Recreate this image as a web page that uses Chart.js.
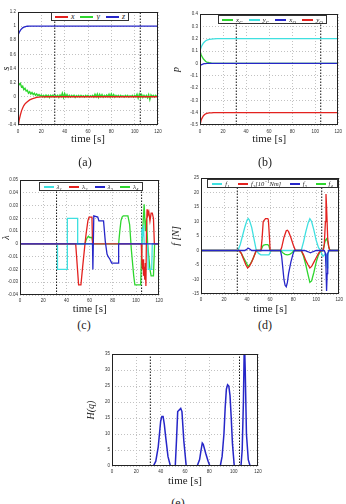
<!DOCTYPE html>
<html>
<head>
<meta charset="utf-8">
<script src="https://cdn.jsdelivr.net/npm/chart.js@4.4.1/dist/chart.umd.min.js"></script>
<style>
body { margin:0; width:346px; height:504px; background:#fff; position:relative; overflow:hidden; font-family:"Liberation Serif", serif; color:#222; }
canvas { position:absolute; }
.cap { position:absolute; font-size:12px; transform:translateX(-50%); white-space:nowrap; }
.leg { position:absolute; background:#fff; border:1px solid #333; display:flex; align-items:center; justify-content:space-around; font-style:italic; box-sizing:border-box; white-space:nowrap; }
.leg .ln { display:inline-block; height:2px; vertical-align:middle; margin-right:3px; }
.leg sub, .leg sup { font-size:70%; line-height:0; }
</style>
</head>
<body>
<canvas id="chartA" width="166" height="150" style="left:0;top:0"></canvas>
<canvas id="chartB" width="176" height="150" style="left:170px;top:0"></canvas>
<canvas id="chartC" width="166" height="148" style="left:0;top:168px"></canvas>
<canvas id="chartD" width="176" height="148" style="left:170px;top:168px"></canvas>
<canvas id="chartE" width="180" height="144" style="left:85px;top:344px"></canvas>

<div class="leg" id="legA" style="left:51px;top:12px;width:78px;height:9px;font-size:8px"></div>
<div class="leg" id="legB" style="left:218px;top:15px;width:109px;height:9px;font-size:7px"></div>
<div class="leg" id="legC" style="left:39px;top:182px;width:104px;height:9px;font-size:7px"></div>
<div class="leg" id="legD" style="left:207px;top:179px;width:131px;height:9px;font-size:6.5px"></div>

<div class="cap" style="left:85px;top:155px">(a)</div>
<div class="cap" style="left:265px;top:155px">(b)</div>
<div class="cap" style="left:84px;top:318px">(c)</div>
<div class="cap" style="left:265px;top:318px">(d)</div>
<div class="cap" style="left:178px;top:496px">(e)</div>

<script>
// colours (matlab-ish)
var RED = '#e3221f', GREEN = '#2fd62f', BLUE = '#2626c8', CYAN = '#3fe0e0';

// times of the two dotted switch lines [s]
var switchT = [31.5, 104.8];

// ---- (a) position s
var timeA = [0, 1, 2, 3, 4, 5, 6, 7, 8, 10, 12, 14, 16, 18, 20, 25, 120];
var posX  = [-0.43, -0.33, -0.26, -0.2, -0.16, -0.125, -0.1, -0.085, -0.07, -0.045, -0.03, -0.018, -0.01, -0.005, -0.002, 0, 0];
var posZ  = [0.87, 0.91, 0.94, 0.96, 0.975, 0.985, 0.99, 0.995, 0.998, 1, 1, 1, 1, 1, 1, 1, 1];
var stepY = 1; // posY sampled every second from t=0
var posY = [0.21, 0.17, 0.19, 0.14, 0.15, 0.1, 0.12, 0.08, 0.09, 0.05, 0.07, 0.04, 0.06, 0.03, 0.05, 0.02, 0.04, 0.015, 0.03, 0.01, 0.025,
  0.0, 0.02, -0.005, 0.025, 0.0, 0.02, -0.01, 0.02, 0.0, 0.025, -0.005, 0.02, 0.0, 0.02, -0.01, 0.025,
  0.0, 0.05, -0.01, 0.045, 0.0, 0.03, -0.005,
  0.02, -0.005, 0.02, 0.0, 0.02, -0.01, 0.015, 0.0, 0.02, -0.005, 0.02, 0.0, 0.015, -0.005, 0.02, 0.0, 0.02, -0.005, 0.015, 0.0, 0.02, -0.005,
  0.035, 0.0, 0.04, -0.01, 0.035, 0.0, 0.03,
  -0.005, 0.02, 0.0, 0.025, 0.0,
  0.035, -0.005, 0.04, 0.0, 0.03, -0.005,
  0.02, 0.0, 0.02, -0.005, 0.02, 0.0, 0.015, -0.005, 0.02, 0.0, 0.02, -0.005, 0.015, 0.0, 0.02, -0.005, 0.02, 0.0,
  0.035, -0.02, 0.035, -0.01, 0.03, -0.01,
  0.02, -0.005, 0.02, -0.015, 0.03, -0.04, 0.025, 0.0, 0.02, -0.005, 0.02, 0.005];

// ---- (b) p
var timeB = [0, 1, 2, 3, 4, 5, 6, 8, 10, 12, 15, 20, 120];
var xC = [0.1, 0.07, 0.05, 0.035, 0.025, 0.015, 0.01, 0.005, 0.002, 0, 0, 0, 0];
var yC = [0.1, 0.13, 0.15, 0.165, 0.175, 0.183, 0.188, 0.194, 0.197, 0.199, 0.2, 0.2, 0.2];
var xO = [-0.02, -0.012, -0.008, -0.005, -0.003, -0.002, -0.001, 0, 0, 0, 0, 0, 0];
var yO = [-0.5, -0.46, -0.44, -0.425, -0.415, -0.41, -0.405, -0.402, -0.401, -0.4, -0.4, -0.4, -0.4];

// ---- (c) lambda
var tLam1 = [0, 32.3, 32.3, 40.8, 40.8, 49.7, 49.7, 104.5, 105, 105.5, 106.5, 107, 110, 110.5, 113.5, 114, 120];
var lam1  = [0, 0, -0.02, -0.02, 0.02, 0.02, 0, 0, 0.012, 0.005, 0.015, 0, 0, -0.02, -0.02, 0, 0];
var tLam2 = [0, 48, 50.5, 52.5, 54, 56, 57, 58.5, 59.5, 62, 62.5, 104.5, 105, 105.5, 106, 106.5, 107, 107.5, 108, 108.5, 109, 109.5, 110, 111, 112, 113, 114, 115, 115.8, 120];
var lam2  = [0, 0, -0.032, -0.032, -0.018, 0, 0.008, 0.018, 0.021, 0.021, 0, 0, -0.015, -0.02, -0.012, -0.025, -0.018, -0.028, -0.015, -0.033, 0.01, 0.027, 0.022, 0.025, 0.018, 0.024, 0.024, 0.02, 0, 0];
var tLam3 = [0, 62.5, 62.8, 63.6, 67, 68, 72, 73.5, 75, 76, 77.5, 79, 84.5, 85, 120];
var lam3  = [0, 0, -0.02, 0.022, 0.021, 0.018, 0.018, 0.002, -0.008, -0.01, -0.012, -0.015, -0.015, 0, 0];
var tLam4 = [0, 56, 57, 58, 59, 60, 62, 63, 85, 86, 87, 88, 89, 93, 94.5, 96, 98, 99, 104, 105, 106, 107, 108, 109, 110, 111, 112, 113, 115, 116, 120];
var lam4  = [0, 0, 0.003, 0.005, 0.006, 0.005, 0.005, 0, 0, 0.01, 0.018, 0.021, 0.022, 0.022, 0.015, -0.005, -0.025, -0.032, -0.032, 0, 0.015, 0.031, 0.01, 0.02, 0, -0.01, -0.02, -0.025, -0.025, 0, 0];

// ---- (d) f [N]
var tF1 = [0, 32, 34, 36, 38, 40, 41, 42, 44, 46, 48, 50, 52, 56, 59, 61, 87, 89, 91, 93, 94.5, 96, 98, 100, 102, 104, 105, 106, 107, 108, 109, 109.5, 110, 111, 120];
var f1  = [0, 0, 2, 5, 8, 10.5, 11, 10.5, 8, 4, 0, -1, -1.5, -1.5, -1.5, 0, 0, 3, 6.5, 9.5, 11, 10, 7, 3.5, 1, 0, -1.5, -2, -1.5, -1, -2, -6, -2, 0, 0];
var tF2 = [0, 33, 35, 37, 39, 40.5, 42, 44, 46, 48, 52, 53, 54, 56, 58, 58.5, 59.5, 60, 69, 70, 72, 74, 75, 76, 78, 80, 82, 87, 89, 91, 93, 94.5, 96, 98, 100, 102, 104, 106, 107, 108, 108.5, 109, 110, 111, 112, 120];
var f2  = [0, 0, -1, -3, -5, -6, -5.5, -4, -2, 0, 0, 4, 10, 11, 11, 10.5, 4, 0, 0, 1, 4.5, 6.8, 7, 6.5, 4.5, 2, 0, 0, -1.5, -3.5, -5, -6, -5.5, -4, -2.5, -1, 0, 0, 2, 10, 19.5, 15, 4, 1, 0, 0];
var tF3 = [0, 38, 40, 41, 42, 44, 69, 70, 71, 72, 73, 74, 75, 76, 78, 80, 81, 90, 92, 94, 95, 96, 98, 100, 107, 108, 108.5, 109, 109.5, 110, 111, 120];
var f3  = [0, 0, 0.5, 0.8, 0.6, 0, 0, -2, -6, -10, -12, -12.5, -11, -8, -4, -1, 0, 0, -0.3, -0.6, -0.8, -0.6, -0.3, 0, 0, -1, -6, -14, -8, -1, 0, 0];
var tF4 = [0, 33, 35, 37, 39, 41, 43, 45, 47, 48, 52, 53, 54, 56, 58, 59, 60, 69, 71, 73, 75, 77, 79, 81, 87, 89, 91, 93, 94.5, 96, 98, 100, 102, 104, 106, 107, 108, 109, 110, 111, 112, 120];
var f4  = [0, 0, -1, -2.5, -4, -5.5, -4.5, -3, -1, 0, 0, 1, 1.8, 2, 2, 1.5, 0, 0, -0.8, -1.3, -1.5, -1.3, -0.8, 0, 0, -2, -5, -8.5, -11, -10.5, -7.5, -4, -1.5, 0, 0, 2, 3.5, 4, 3, 1, 0, 0];

// ---- (e) H(q)
var timeH = [0, 34, 36, 38, 39, 40, 41, 42, 43, 44, 46, 48, 52, 53, 54, 56.5, 57.5, 59, 61, 70, 72, 73, 74.2, 75, 77, 79, 80.5, 89, 90.5, 92, 93, 94, 95, 96, 97, 98, 99, 100.5, 106, 107, 108, 108.8, 109.5, 110.5, 112, 113.5, 120];
var hq    = [0, 0, 1.5, 6, 10, 14, 15.5, 15.5, 13, 9.5, 3, 0, 0, 8, 17, 18, 17, 8, 0, 0, 2, 4.5, 7.2, 6.8, 4, 1.5, 0, 0, 3, 10, 18, 24, 25.4, 25, 22, 15, 7, 0, 0, 5, 20, 40, 30, 10, 2, 0, 0];

function pts(t, v) {
  return t.map(function (x, i) { return { x: x, y: v[i] }; });
}
function line(t, v, color) {
  return { data: pts(t, v), borderColor: color, borderWidth: 1.3, pointRadius: 0 };
}
function vlines(lo, hi) {
  return switchT.map(function (t) {
    return { data: [{ x: t, y: lo }, { x: t, y: hi }], borderColor: '#111', borderWidth: 1, borderDash: [1.5, 1.5], pointRadius: 0 };
  });
}

var framePlugin = {
  id: 'frame',
  afterDatasetsDraw: function (chart) {
    var a = chart.chartArea, ctx = chart.ctx;
    ctx.save();
    ctx.strokeStyle = '#222';
    ctx.lineWidth = 1;
    ctx.strokeRect(Math.round(a.left) + 0.5, Math.round(a.top) + 0.5, Math.round(a.right - a.left) - 1, Math.round(a.bottom - a.top) - 1);
    ctx.restore();
  }
};

function fmt(v) { return String(Math.round(v * 100) / 100); }

function makePlot(id, datasets, y, box) {
  var grid = { color: '#c2c2c2', drawTicks: false };
  var tickFont = { family: 'Liberation Sans', size: 4.5 };
  return new Chart(document.getElementById(id), {
    type: 'line',
    data: { datasets: datasets },
    options: {
      responsive: false,
      animation: false,
      devicePixelRatio: 1,
      layout: { padding: { top: box.padTop, right: box.padRight, left: 0, bottom: 0 } },
      plugins: { legend: { display: false }, tooltip: { enabled: false } },
      elements: { line: { tension: 0 } },
      scales: {
        x: {
          type: 'linear', min: 0, max: 120,
          afterFit: function (s) { s.height = box.xh; },
          grid: grid, border: { display: false, dash: [1, 2] },
          ticks: { stepSize: 20, padding: box.tickPad, font: tickFont, color: '#333', maxRotation: 0, autoSkip: false },
          title: { display: true, text: 'time [s]', color: '#222', font: { family: 'Liberation Serif', size: 11 }, padding: { top: 0, bottom: box.titlePad } }
        },
        y: {
          type: 'linear', min: y.min, max: y.max,
          afterFit: function (s) { s.width = box.yw; },
          grid: grid, border: { display: false, dash: [1, 2] },
          ticks: { stepSize: y.step, padding: 2, font: tickFont, color: '#333', autoSkip: false, callback: fmt },
          title: { display: true, text: y.title, color: '#222', font: { family: 'Liberation Serif', size: 10, style: 'italic' }, padding: { top: 0, bottom: 0 } }
        }
      }
    },
    plugins: [framePlugin]
  });
}

function makeLegend(id, entries, lineW) {
  var el = document.getElementById(id);
  el.innerHTML = entries.map(function (e) {
    return '<span><span class="ln" style="width:' + lineW + 'px;background:' + e[0] + '"></span>' + e[1] + '</span>';
  }).join('');
}

makePlot('chartA', [
  line(timeA, posX, RED),
  line(timeA, posZ, BLUE),
  { data: posY.map(function (v, i) { return { x: i * stepY, y: v }; }), borderColor: GREEN, borderWidth: 1.4, pointRadius: 0 }
].concat(vlines(-0.4, 1.2)), { min: -0.4, max: 1.2, step: 0.2, title: 's' },
  { padTop: 12, padRight: 8, yw: 18, xh: 25, tickPad: 4, titlePad: 4 });

makePlot('chartB', [
  line(timeB, xO, BLUE),
  line(timeB, yO, RED),
  line(timeB, yC, CYAN),
  line(timeB, xC, GREEN)
].concat(vlines(-0.5, 0.4)), { min: -0.5, max: 0.4, step: 0.1, title: 'p' },
  { padTop: 14, padRight: 4, yw: 30, xh: 25, tickPad: 4, titlePad: 4 });

makePlot('chartC', [
  line(tLam3, lam3, BLUE),
  line(tLam2, lam2, RED),
  line(tLam1, lam1, CYAN),
  line(tLam4, lam4, GREEN)
].concat(vlines(-0.04, 0.05)), { min: -0.04, max: 0.05, step: 0.01, title: 'λ' },
  { padTop: 12, padRight: 4, yw: 20, xh: 21, tickPad: 3, titlePad: 0 });

makePlot('chartD', [
  line(tF3, f3, BLUE),
  line(tF2, f2, RED),
  line(tF4, f4, GREEN),
  line(tF1, f1, CYAN)
].concat(vlines(-15, 25)), { min: -15, max: 25, step: 5, title: 'f [N]' },
  { padTop: 10, padRight: 4, yw: 31, xh: 22, tickPad: 3, titlePad: 0 });

makePlot('chartE', [
  { data: pts(timeH, hq), borderColor: BLUE, borderWidth: 1.5, pointRadius: 0 }
].concat(vlines(0, 35)), { min: 0, max: 35, step: 5, title: 'H(q)' },
  { padTop: 10, padRight: 7, yw: 27, xh: 22, tickPad: 3, titlePad: 0 });

makeLegend('legA', [[RED, '<i>x</i>'], [GREEN, '<i>y</i>'], [BLUE, '<i>z</i>']], 13);
makeLegend('legB', [[GREEN, 'x<sub>C</sub>'], [CYAN, 'y<sub>C</sub>'], [BLUE, 'x<sub>O</sub>'], [RED, 'y<sub>O</sub>']], 11);
makeLegend('legC', [[CYAN, 'λ<sub>1</sub>'], [RED, 'λ<sub>2</sub>'], [BLUE, 'λ<sub>3</sub>'], [GREEN, 'λ<sub>4</sub>']], 10);
makeLegend('legD', [[CYAN, 'f<sub>1</sub>'], [RED, 'f<sub>2</sub>[10<sup>−1</sup>Nm]'], [BLUE, 'f<sub>3</sub>'], [GREEN, 'f<sub>4</sub>']], 10);
</script>
</body>
</html>
